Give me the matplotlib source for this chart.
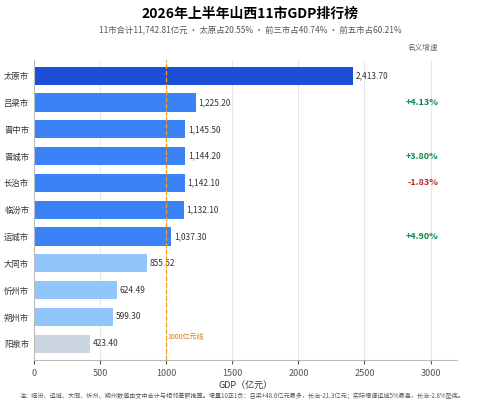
import numpy as np
import matplotlib.pyplot as plt

plt.rcParams['font.family'] = ['Noto Sans CJK SC', 'DejaVu Sans']

cities = ['太原市', '吕梁市', '晋中市', '晋城市', '长治市', '临汾市', '运城市', '大同市', '忻州市', '朔州市', '阳泉市']
gdp = [2413.70, 1225.20, 1145.50, 1144.20, 1142.10, 1132.10, 1037.30, 855.52, 624.49, 599.30, 423.40]
growth = {1: '+4.13%', 3: '+3.80%', 4: '-1.83%', 6: '+4.90%'}
colors = ['#1d4ed8'] + ['#3b82f6'] * 6 + ['#93c5fd'] * 3 + ['#cbd5e1']

fig = plt.figure(figsize=(5.0, 4.03), dpi=100)
ax = fig.add_axes([0.068, 0.107, 0.846, 0.745])
y = np.arange(len(cities))
ax.barh(y, gdp, height=0.68, color=colors, zorder=2)
for i, v in enumerate(gdp):
    ax.text(v + 20, i, f'{v:,.2f}', va='center', fontsize=6, color='#333333')
for i, s in growth.items():
    ax.text(3060, i, s, va='center', ha='right', fontsize=6.5, fontweight='bold',
            color='#0a8a4a' if s[0] == '+' else '#c0262d')
ax.text(3060, -1.05, '名义增速', ha='right', va='center', fontsize=5.5, color='#666666')
ax.axvline(1000, color='#f59e0b', ls='--', lw=0.9, zorder=3)
ax.text(1010, 9.75, '1000亿元线', fontsize=5, color='#d97706', va='center')
ax.set_yticks(y)
ax.set_yticklabels(cities, fontsize=6)
ax.set_ylim(10.6, -0.6)
ax.set_xlim(0, 3200)
ax.set_xticks([0, 500, 1000, 1500, 2000, 2500, 3000])
ax.tick_params(axis='x', labelsize=6.5, colors='#555555', length=3)
ax.tick_params(axis='y', length=0, colors='#333333')
ax.grid(axis='x', color='#e5e7eb', lw=0.7, zorder=0)
for s in ['top', 'right']:
    ax.spines[s].set_visible(False)
ax.spines['left'].set_color('#bbbbbb')
ax.spines['bottom'].set_color('#bbbbbb')
ax.set_xlabel('GDP（亿元）', fontsize=6.5, color='#333333', labelpad=2)
fig.text(0.5, 0.965, '2026年上半年山西11市GDP排行榜', ha='center', va='center', fontsize=10, fontweight='bold')
fig.text(0.5, 0.925, '11市合计11,742.81亿元 · 太原占20.55% · 前三市占40.74% · 前五市占60.21%',
         ha='center', va='center', fontsize=6, color='#555555')
fig.text(0.04, 0.018, '注：临汾、运城、大同、忻州、朔州数值由文中合计与相邻差额推算。增量10正1负：吕梁+48.6亿元最多，长治-21.3亿元；实际增速运城5%最高，长治-2.8%垫底。',
         fontsize=4.4, color='#555555', va='center')
fig.savefig('out.png', dpi=100, facecolor='white')
